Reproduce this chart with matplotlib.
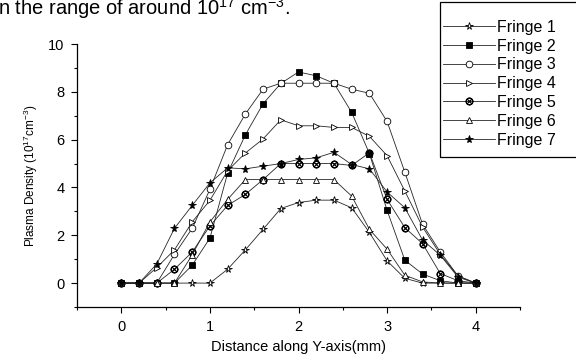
import numpy as np
import matplotlib
matplotlib.use("Agg")
import matplotlib.pyplot as plt
from matplotlib.patches import Rectangle

# ---------------------------------------------------------------------------
# DATA  (step 0.2 mm)
# ---------------------------------------------------------------------------
dist = [0.0, 0.2, 0.4, 0.6, 0.8, 1.0, 1.2, 1.4, 1.6, 1.8, 2.0,
        2.2, 2.4, 2.6, 2.8, 3.0, 3.2, 3.4, 3.6, 3.8, 4.0]

fringe1 = [0, 0, 0, 0, 0, 0, 0.58, 1.39, 2.25, 3.12, 3.37,
           3.47, 3.47, 3.15, 2.12, 0.93, 0.2, 0, 0, 0, 0]
fringe2 = [0, 0, 0, 0, 0.75, 1.88, 4.6, 6.2, 7.5, 8.35, 8.83,
           8.67, 8.36, 7.14, 5.42, 3.04, 0.96, 0.38, 0.1, 0, 0]
fringe3 = [0, 0, 0, 1.2, 2.29, 3.92, 5.79, 7.07, 8.11, 8.36, 8.36,
           8.36, 8.36, 8.11, 7.94, 6.76, 4.64, 2.46, 1.3, 0.3, 0]
fringe4 = [0, 0, 0.65, 1.39, 2.56, 3.46, 4.7, 5.44, 6.03, 6.83, 6.58,
           6.58, 6.51, 6.51, 6.14, 5.33, 3.85, 2.35, 1.2, 0.3, 0]
fringe5 = [0, 0, 0, 0.58, 1.3, 2.39, 3.25, 3.71, 4.33, 5.0, 5.0,
           5.0, 5.0, 4.92, 5.45, 3.5, 2.32, 1.65, 0.4, 0.1, 0]
fringe6 = [0, 0, 0, 0, 1.18, 2.56, 3.5, 4.33, 4.33, 4.33, 4.33,
           4.33, 4.33, 3.64, 2.25, 1.42, 0.33, 0.05, 0, 0, 0]
fringe7 = [0, 0, 0.8, 2.29, 3.25, 4.19, 4.82, 4.78, 4.89, 5.0, 5.17,
           5.24, 5.47, 4.96, 4.78, 3.81, 3.15, 1.8, 1.17, 0.25, 0]

labels = ["Fringe 1", "Fringe 2", "Fringe 3", "Fringe 4",
          "Fringe 5", "Fringe 6", "Fringe 7"]

# ---------------------------------------------------------------------------
# STYLE
# ---------------------------------------------------------------------------
plt.rcParams["font.family"] = ["Liberation Sans", "DejaVu Sans"]
plt.rcParams["mathtext.fontset"] = "custom"
plt.rcParams["mathtext.rm"] = "Liberation Sans"

# marker, face colour, size for each fringe
styles = [
    ("*", "white", 5.5),
    ("s", "black", 4.0),
    ("o", "white", 4.8),
    (">", "white", 4.8),
    (r"$\otimes$", "black", 5.2),
    ("^", "white", 4.8),
    ("*", "black", 5.8),
]

fig = plt.figure(figsize=(5.76, 3.59), dpi=100)
ax = fig.add_axes([0.1337, 0.1448, 0.7691, 0.7326])

series = [fringe1, fringe2, fringe3, fringe4, fringe5, fringe6, fringe7]
for vals, lab, (mk, fc, ms) in zip(series, labels, styles):
    ax.plot(dist, vals, color="#262626", lw=0.6, marker=mk, ms=ms,
            mfc=fc, mec="black", mew=0.6, label=lab)

ax.set_xlim(-0.5, 4.5)
ax.set_ylim(-1, 10)
ax.set_xticks([0, 1, 2, 3, 4])
ax.set_xticks([-0.5, 0.5, 1.5, 2.5, 3.5, 4.5], minor=True)
ax.set_yticks([0, 2, 4, 6, 8, 10])
ax.set_yticks([-1, 1, 3, 5, 7, 9], minor=True)
ax.tick_params(which="major", direction="out", length=4, width=0.8,
               labelsize=10.5, pad=5)
ax.tick_params(which="minor", direction="out", length=2.5, width=0.8)
ax.spines["top"].set_visible(False)
ax.spines["right"].set_visible(False)
for s in ("left", "bottom"):
    ax.spines[s].set_linewidth(0.9)

ax.set_xlabel("Distance along Y-axis(mm)", fontsize=10.5, labelpad=5)
ax.set_ylabel(r"Plasma Density (10$^{17}$cm$^{-3}$)", fontsize=8.5,
              labelpad=6)

# legend without its own frame; frame drawn as a box running off the edge
leg = fig.legend(loc="upper left", bbox_to_anchor=(0.769, 0.945),
                 fontsize=11.5, handlelength=3.25, handletextpad=0.15,
                 labelspacing=0.24, borderpad=0, frameon=False,
                 borderaxespad=0)
fig.add_artist(Rectangle((440 / 576, 1 - 157 / 359), 0.3, 155 / 359,
                         transform=fig.transFigure, fill=False,
                         ec="black", lw=0.9, clip_on=False))

# page text cut off at the top of the screenshot
fig.text(-0.004, 0.958, r"n the range of around 10$^{17}$ cm$^{-3}$.",
         fontsize=14.5, ha="left", va="baseline")

fig.savefig("out.png", dpi=100)
